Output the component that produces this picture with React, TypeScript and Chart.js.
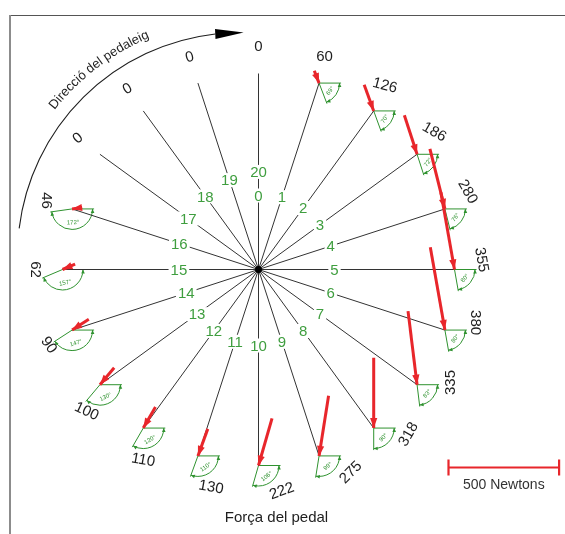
import React, { useEffect, useRef } from "react";
import { Chart, registerables } from "chart.js";

Chart.register(...registerables);

// Crank positions, one every 18°, numbered clockwise from top dead centre
const crankPosition = [0, 1, 2, 3, 4, 5, 6, 7, 8, 9, 10, 11, 12, 13, 14, 15, 16, 17, 18, 19];
// Force applied on the pedal at each position (newtons)
const pedalForce = [0, 60, 126, 186, 280, 355, 380, 335, 318, 275, 222, 130, 110, 100, 90, 62, 46, 0, 0, 0];
// Direction of that force, degrees clockwise from the horizontal
const forceAngle: (number | null)[] = [null, 69, 70, 72, 76, 80, 80, 83, 90, 99, 106, 110, 120, 130, 147, 157, 172, null, null, null];
// Tilt of each force value label (degrees, clockwise)
const labelTilt = [0, 0, 15, 30, 60, 80, 90, -90, -60, -45, -20, 10, 10, 25, 55, 90, 90, -40, -30, -15];
// Reference length shown in the scale bar (newtons)
const scaleBarForce = 500;
const scaleBarLabel = "500 Newtons";
const titleText = "Força del pedal";
const directionText = "Direcció del pedaleig";

// Layout (chart units are one pixel at this canvas size; the axle is the origin)
const STEP_DEG = 18;
const CRANK_LEN = 196;
const PX_PER_NEWTON = 0.2212;
const WEDGE_R = 22;
const RED = "#e8262b";
const GREEN_TEXT = "#3f9e3f";
const GREEN_LINE = "#2f922f";
const INK = "#1e1e1e";
const FONT = '"Liberation Sans", Arial, Helvetica, sans-serif';

const rad = (d: number) => (d * Math.PI) / 180;

function pedalPoint(i: number) {
  const t = rad(i * STEP_DEG);
  return { x: CRANK_LEN * Math.sin(t), y: CRANK_LEN * Math.cos(t) };
}

function forceTail(i: number) {
  const p = pedalPoint(i);
  const a = rad(forceAngle[i] ?? 90);
  const len = pedalForce[i] * PX_PER_NEWTON;
  return { x: p.x - len * Math.cos(a), y: p.y + len * Math.sin(a) };
}

function arrowHead(ctx: CanvasRenderingContext2D, x: number, y: number, dx: number, dy: number, len: number, half: number) {
  const n = Math.hypot(dx, dy) || 1;
  const ux = dx / n, uy = dy / n;
  ctx.beginPath();
  ctx.moveTo(x, y);
  ctx.lineTo(x - ux * len - uy * half, y - uy * len + ux * half);
  ctx.lineTo(x - ux * len + uy * half, y - uy * len - ux * half);
  ctx.closePath();
  ctx.fill();
}

const diagramPlugin = {
  id: "pedalDiagram",
  beforeDatasetsDraw(chart: any) {
    const { ctx, chartArea, scales } = chart;
    const X = (v: number) => scales.x.getPixelForValue(v);
    const Y = (v: number) => scales.y.getPixelForValue(v);
    ctx.save();
    // frame
    ctx.strokeStyle = "#555";
    ctx.lineWidth = 1;
    ctx.beginPath();
    ctx.moveTo(chartArea.left, chartArea.top + 0.5);
    ctx.lineTo(chartArea.right, chartArea.top + 0.5);
    ctx.stroke();
    ctx.strokeStyle = "#8c8c8c";
    ctx.lineWidth = 2;
    ctx.beginPath();
    ctx.moveTo(chartArea.left + 1, chartArea.top);
    ctx.lineTo(chartArea.left + 1, chartArea.bottom);
    ctx.stroke();

    // angle wedges at each loaded pedal
    crankPosition.forEach((i) => {
      const phi = forceAngle[i];
      if (phi == null || pedalForce[i] <= 0) return;
      const p = pedalPoint(i);
      const cx = X(p.x), cy = Y(p.y);
      const a = rad(phi);
      ctx.strokeStyle = GREEN_LINE;
      ctx.fillStyle = GREEN_LINE;
      ctx.lineWidth = 1;
      ctx.beginPath();
      ctx.moveTo(cx + WEDGE_R, cy);
      ctx.lineTo(cx, cy);
      ctx.lineTo(cx + WEDGE_R * Math.cos(a), cy + WEDGE_R * Math.sin(a));
      ctx.stroke();
      const ar = WEDGE_R - 1.5;
      ctx.beginPath();
      ctx.arc(cx, cy, ar, 0, a);
      ctx.stroke();
      arrowHead(ctx, cx + ar, cy, 0, -1, 4, 1.8);
      arrowHead(ctx, cx + ar * Math.cos(a), cy + ar * Math.sin(a), -Math.sin(a), Math.cos(a), 4, 1.8);
      // angle value
      const b = a / 2;
      ctx.save();
      ctx.translate(cx + WEDGE_R * 0.62 * Math.cos(b), cy + WEDGE_R * 0.62 * Math.sin(b));
      ctx.rotate(b - Math.PI / 2);
      ctx.font = `6px ${FONT}`;
      ctx.textAlign = "center";
      ctx.textBaseline = "middle";
      ctx.fillText(`${phi}°`, 0, 0);
      ctx.restore();
    });
    ctx.restore();
  },
  afterDatasetsDraw(chart: any) {
    const { ctx, scales } = chart;
    const X = (v: number) => scales.x.getPixelForValue(v);
    const Y = (v: number) => scales.y.getPixelForValue(v);
    ctx.save();

    // arrowheads on force vectors
    ctx.fillStyle = RED;
    crankPosition.forEach((i) => {
      if (pedalForce[i] <= 0) return;
      const p = pedalPoint(i);
      const t = forceTail(i);
      const px = X(p.x), py = Y(p.y);
      arrowHead(ctx, px, py, px - X(t.x), py - Y(t.y), 10, 3.6);
    });

    // axle
    ctx.fillStyle = "#000";
    ctx.beginPath();
    ctx.arc(X(0), Y(0), 3.4, 0, Math.PI * 2);
    ctx.fill();

    // crank position numbers
    ctx.font = `15px ${FONT}`;
    ctx.textAlign = "center";
    ctx.textBaseline = "middle";
    [...crankPosition, crankPosition.length].forEach((k) => {
      const t = rad(k * STEP_DEG);
      const r = k === 0 ? 74 : 76 + Math.max(0, k - 14) * 3.6;
      const x = X(r * Math.sin(t)), y = Y(r * Math.cos(t));
      const w = ctx.measureText(String(k)).width;
      ctx.fillStyle = "#fff";
      ctx.fillRect(x - w / 2 - 2, y - 7, w + 4, 14);
      ctx.fillStyle = GREEN_TEXT;
      ctx.fillText(String(k), x, y + 1);
    });

    // force values
    ctx.fillStyle = INK;
    ctx.font = `15px ${FONT}`;
    crankPosition.forEach((i) => {
      const base = rad(i * STEP_DEG);
      const nudge = -6 * Math.max(0, -Math.cos(base)) - 2.5 * Math.max(0, Math.sin(base));
      const t = base + rad(nudge);
      const r = 223;
      ctx.save();
      ctx.translate(X(r * Math.sin(t)), Y(r * Math.cos(t)));
      ctx.rotate(rad(labelTilt[i]));
      ctx.fillText(String(pedalForce[i]), 0, 0);
      ctx.restore();
    });

    // pedalling direction arc
    const ac = { x: X(-18), y: Y(14) };
    const aR = 223;
    const arcStart = 277, headBase = 353.5, headTip = 0.8;
    ctx.strokeStyle = INK;
    ctx.lineWidth = 1.1;
    ctx.beginPath();
    ctx.arc(ac.x, ac.y, aR, rad(arcStart - 90), rad(headBase - 90));
    ctx.stroke();
    const tipX = ac.x + aR * Math.sin(rad(headTip)), tipY = ac.y - aR * Math.cos(rad(headTip));
    const bX = ac.x + aR * Math.sin(rad(headBase)), bY = ac.y - aR * Math.cos(rad(headBase));
    ctx.fillStyle = "#000";
    arrowHead(ctx, tipX, tipY, tipX - bX, tipY - bY, Math.hypot(tipX - bX, tipY - bY), 5);

    ctx.fillStyle = INK;
    ctx.font = `13px ${FONT}`;
    ctx.textAlign = "center";
    ctx.textBaseline = "alphabetic";
    const tr = 236;
    const total = ctx.measureText(directionText).width;
    let acc = -total / 2;
    const mid = rad(322.7);
    for (const ch of directionText) {
      const w = ctx.measureText(ch).width;
      const ang = mid + (acc + w / 2) / tr;
      ctx.save();
      ctx.translate(ac.x + tr * Math.sin(ang), ac.y - tr * Math.cos(ang));
      ctx.rotate(ang);
      ctx.fillText(ch, 0, 0);
      ctx.restore();
      acc += w;
    }

    // caption
    ctx.font = `15px ${FONT}`;
    ctx.textBaseline = "middle";
    ctx.fillText(titleText, X(18), Y(-248));

    // scale bar
    const sx0 = X(190), sx1 = X(190 + scaleBarForce * PX_PER_NEWTON), sy = Y(-198);
    ctx.strokeStyle = RED;
    ctx.lineWidth = 2.2;
    ctx.beginPath();
    ctx.moveTo(sx0, sy);
    ctx.lineTo(sx1, sy);
    ctx.moveTo(sx0, sy - 8);
    ctx.lineTo(sx0, sy + 8);
    ctx.moveTo(sx1, sy - 8);
    ctx.lineTo(sx1, sy + 8);
    ctx.stroke();
    ctx.fillStyle = "#333";
    ctx.font = `14px ${FONT}`;
    ctx.fillText(scaleBarLabel, (sx0 + sx1) / 2, sy + 18);

    ctx.restore();
  },
};

export default function App() {
  const ref = useRef<HTMLCanvasElement>(null);
  useEffect(() => {
    if (!ref.current) return;
    const arrows = crankPosition
      .filter((i) => pedalForce[i] > 0)
      .map((i) => ({
        data: [forceTail(i), pedalPoint(i)],
        showLine: true,
        borderColor: RED,
        borderWidth: 3,
        pointRadius: 0,
        order: 0,
      }));
    const spokes = crankPosition.map((i) => ({
      data: [{ x: 0, y: 0 }, pedalPoint(i)],
      showLine: true,
      borderColor: "#333",
      borderWidth: 1,
      pointRadius: 0,
      order: 1,
    }));
    const chart = new Chart(ref.current, {
      type: "scatter",
      data: { datasets: [...arrows, ...spokes] as any },
      options: {
        responsive: false,
        animation: false,
        events: [],
        layout: { padding: { left: 9, top: 15, right: 0, bottom: 0 } },
        plugins: { legend: { display: false }, tooltip: { enabled: false } },
        scales: {
          x: { type: "linear", min: -249.5, max: 306.5, display: false },
          y: { type: "linear", min: -264.5, max: 254.5, display: false },
        },
      },
      plugins: [diagramPlugin],
    });
    return () => chart.destroy();
  }, []);
  return (
    <div style={{ position: "absolute", left: 0, top: 0, width: 565, height: 534, background: "#fff" }}>
      <canvas ref={ref} width={565} height={534} style={{ display: "block" }} />
    </div>
  );
}
